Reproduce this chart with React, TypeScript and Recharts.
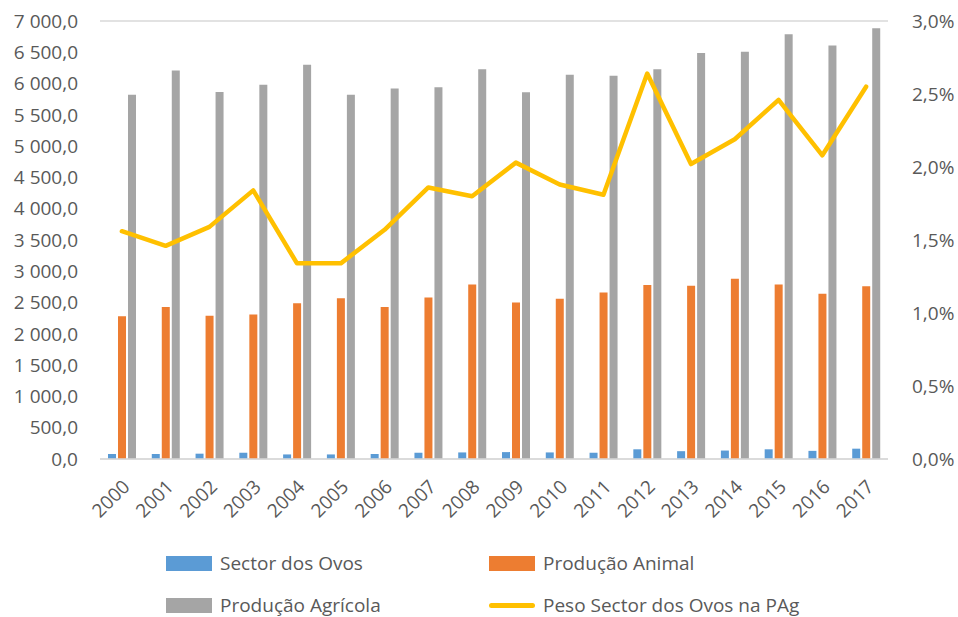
import { ComposedChart, Bar, Line, XAxis, YAxis, CartesianGrid, Legend } from 'recharts';

const years = ['2000', '2001', '2002', '2003', '2004', '2005', '2006', '2007', '2008', '2009', '2010', '2011', '2012', '2013', '2014', '2015', '2016', '2017'];
const sectorOvos = [80, 80, 85, 100, 73, 73, 80, 100, 105, 110, 105, 100, 155, 125, 135, 155, 130, 165];
const producaoAnimal = [2280, 2430, 2290, 2310, 2490, 2570, 2430, 2580, 2790, 2500, 2560, 2660, 2780, 2770, 2880, 2790, 2640, 2760];
const producaoAgricola = [5820, 6210, 5865, 5980, 6300, 5820, 5920, 5940, 6230, 5860, 6140, 6125, 6230, 6490, 6510, 6790, 6610, 6885];
const pesoOvos = [1.56, 1.46, 1.59, 1.84, 1.34, 1.34, 1.57, 1.86, 1.8, 2.03, 1.88, 1.81, 2.64, 2.02, 2.19, 2.46, 2.08, 2.55];

const leftTicks = [0, 500, 1000, 1500, 2000, 2500, 3000, 3500, 4000, 4500, 5000, 5500, 6000, 6500, 7000];
const rightTicks = [0, 0.5, 1, 1.5, 2, 2.5, 3];

const data = years.map((y, i) => ({
  year: y,
  ovos: sectorOvos[i],
  animal: producaoAnimal[i],
  agricola: producaoAgricola[i],
  peso: pesoOvos[i],
}));

const FONT = '"Open Sans", sans-serif';
const TXT = '#595959';

const fmtLeft = (v: number) => {
  const [int, dec] = v.toFixed(1).split('.');
  return int.replace(/\B(?=(\d{3})+(?!\d))/g, ' ') + ',' + dec;
};
const fmtRight = (v: number) => v.toFixed(1).replace('.', ',') + '%';

const YearTick = (props: any) => {
  const { x, y, payload } = props;
  const ax = x + 4;
  const ay = y + 16;
  return (
    <text x={ax} y={ay} textAnchor="end" dominantBaseline="central" fill={TXT} fontSize={19} fontFamily={FONT} transform={`rotate(-45, ${ax}, ${ay})`}>
      {payload.value}
    </text>
  );
};

const LegendBox = (props: any) => {
  const items = props.payload || [];
  const order = ['ovos', 'animal', 'agricola', 'peso'];
  const sorted = order.map((k) => items.find((it: any) => it.dataKey === k)).filter(Boolean);
  return (
    <div style={{ position: 'relative', width: 958, height: 70, fontFamily: FONT, fontSize: 19, color: TXT }}>
      {sorted.map((it: any, i: number) => {
        const col = i % 2;
        const row = Math.floor(i / 2);
        const left = col === 0 ? 166 : 489;
        const top = row * 42;
        return (
          <div key={it.dataKey} style={{ position: 'absolute', left, top, height: 30, display: 'flex', alignItems: 'center', whiteSpace: 'nowrap' }}>
            {it.type === 'line' ? (
              <span style={{ display: 'inline-block', width: 46, height: 5, borderRadius: 3, background: it.color, marginRight: 8 }} />
            ) : (
              <span style={{ display: 'inline-block', width: 46, height: 15, background: it.color, marginRight: 8 }} />
            )}
            <span>{it.value}</span>
          </div>
        );
      })}
    </div>
  );
};

export default function App() {
  return (
    <div style={{ position: 'absolute', left: 0, top: 0, width: 958, height: 617, background: '#fff' }}>
      <ComposedChart width={958} height={617} data={data} margin={{ top: 21, right: 0, left: 0, bottom: 0 }} barSize={8} barGap={2}>
        <CartesianGrid vertical={false} stroke="#D9D9D9" strokeWidth={1.3} />
        <XAxis
          dataKey="year"
          height={158}
          axisLine={{ stroke: '#D9D9D9', strokeWidth: 1.5 }}
          tickLine={false}
          tick={<YearTick />}
          interval={0}
        />
        <YAxis
          yAxisId="left"
          width={100}
          domain={[0, 7000]}
          ticks={leftTicks}
          tickFormatter={fmtLeft}
          axisLine={false}
          tickLine={false}
          tickMargin={16}
          tick={{ fill: TXT, fontSize: 19, fontFamily: FONT }}
        />
        <YAxis
          yAxisId="right"
          orientation="right"
          width={70}
          domain={[0, 3]}
          ticks={rightTicks}
          tickFormatter={fmtRight}
          axisLine={false}
          tickLine={false}
          tickMargin={18}
          tick={{ fill: TXT, fontSize: 19, fontFamily: FONT, textAnchor: 'start' }}
        />
        <Legend
          verticalAlign="middle"
          align="center"
          content={<LegendBox />}
          wrapperStyle={{ top: 548, left: 0, width: 958, height: 70 }}
        />
        <Bar yAxisId="left" dataKey="ovos" name="Sector dos Ovos" fill="#5B9BD5" isAnimationActive={false} />
        <Bar yAxisId="left" dataKey="animal" name="Produção Animal" fill="#ED7D31" isAnimationActive={false} />
        <Bar yAxisId="left" dataKey="agricola" name="Produção Agrícola" fill="#A5A5A5" isAnimationActive={false} />
        <Line yAxisId="right" dataKey="peso" name="Peso Sector dos Ovos na PAg" type="linear" stroke="#FFC000" strokeWidth={4.5} strokeLinejoin="round" strokeLinecap="round" dot={false} legendType="line" isAnimationActive={false} />
      </ComposedChart>
    </div>
  );
}
